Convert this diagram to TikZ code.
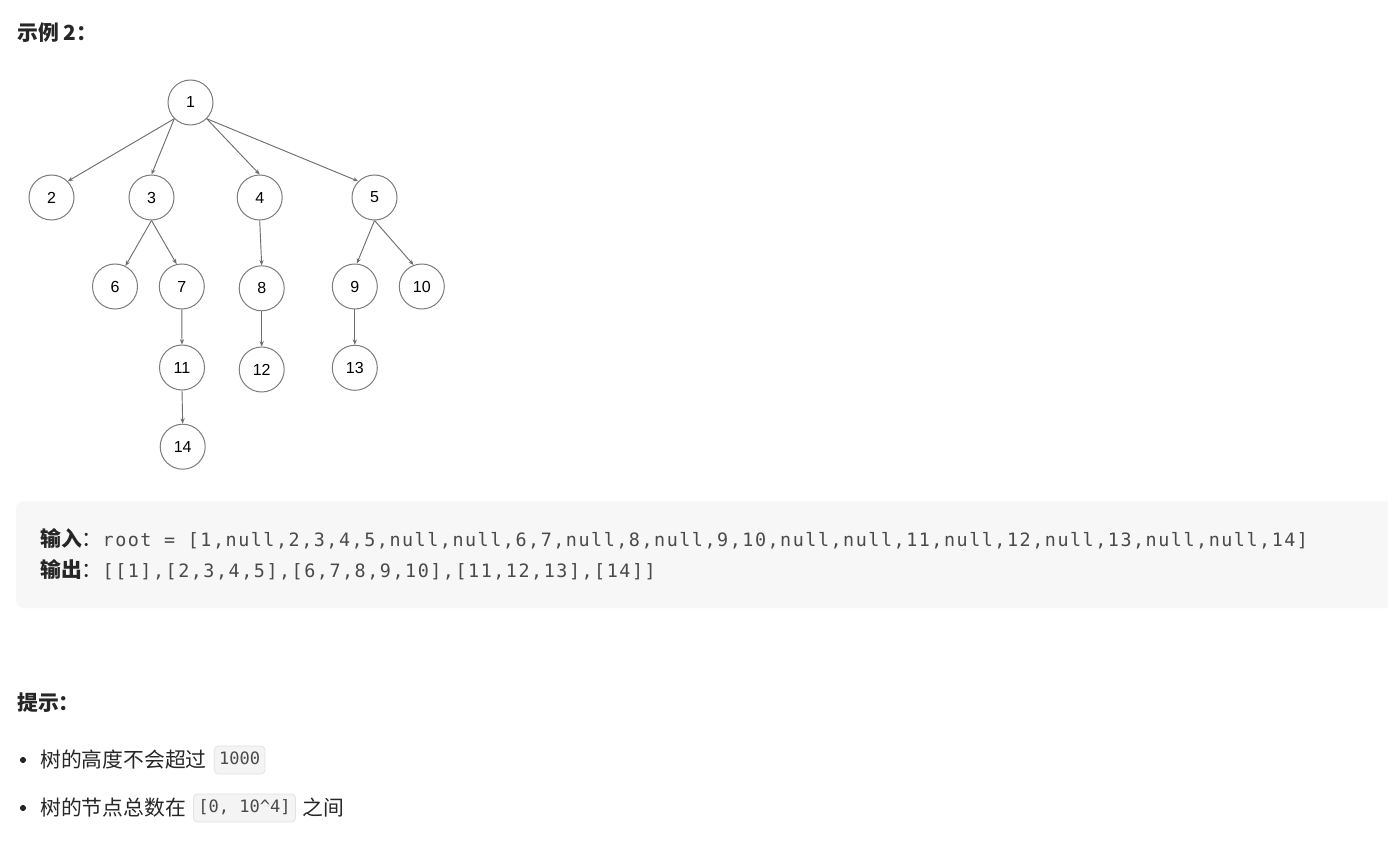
\documentclass[tikz,border=0pt]{standalone}
\usepackage{fontspec}
\setmainfont{Noto Sans CJK SC}
\newfontfamily\digitfont{Liberation Sans}
\newfontfamily\blockfont[LetterSpace=8.3]{DejaVu Sans Mono}
\newfontfamily\inlinefont{DejaVu Sans Mono}
\usepackage{tikz}
\usetikzlibrary{arrows.meta,positioning}
\definecolor{textcol}{HTML}{262626}
\definecolor{codecol}{HTML}{4A4A4A}
\definecolor{codebg}{HTML}{F7F7F7}
\definecolor{inlinebg}{HTML}{F4F4F4}
\definecolor{inlineline}{HTML}{E2E2E2}
\definecolor{edgecol}{HTML}{6E6E6E}
\definecolor{ringcol}{HTML}{7C7C7C}
\tikzset{
  treenode/.style={circle,draw=ringcol,line width=0.75pt,minimum size=33.75pt,
    inner sep=0pt,font=\digitfont\fontsize{12}{14}\selectfont,text=black},
  treeedge/.style={edgecol,line width=0.7pt,-{Stealth[length=4pt,width=3.2pt]}},
  plaintext/.style={anchor=west,inner sep=0pt,text=textcol,font=\fontsize{15.6}{18}\selectfont},
  boldtext/.style={plaintext,font=\bfseries\fontsize{15.6}{18}\selectfont},
  inlinecode/.style={draw=inlineline,fill=inlinebg,line width=0.6pt,rounded corners=3pt,
    inner xsep=3.6pt,inner ysep=0pt,minimum height=21pt,text height=9.5pt,text depth=2.5pt,
    text=codecol,font=\inlinefont\fontsize{12.8}{15}\selectfont}
}

\begin{document}
\begin{tikzpicture}[x=0.75pt,y=-0.75pt]
  \clip (0,0) rectangle (1388,848);
  \fill[white] (0,0) rectangle (1388,848);

  \node[boldtext] (title) at (17,33) {示例 2：};

  \node[treenode] (n1) at (190.5,102.5) {1};
  \node[treenode] (n2) at (51.5,197.5) {2};
  \node[treenode] (n3) at (151.5,197.5) {3};
  \node[treenode] (n4) at (259.7,197.5) {4};
  \node[treenode] (n5) at (374.5,197.5) {5};
  \node[treenode] (n6) at (115,286.5) {6};
  \node[treenode] (n7) at (181.8,286.5) {7};
  \node[treenode] (n8) at (261.7,288.3) {8};
  \node[treenode] (n9) at (354.8,286.5) {9};
  \node[treenode] (n10) at (421.8,286.5) {10};
  \node[treenode] (n11) at (182,367.5) {11};
  \node[treenode] (n12) at (261.7,369.5) {12};
  \node[treenode] (n13) at (354.8,367.8) {13};
  \node[treenode] (n14) at (182.7,446.7) {14};

  \draw[treeedge] (n1.south west) -- (n2.north east);
  \draw[treeedge] (n1.south west) -- (n3.north);
  \draw[treeedge] (n1.south east) -- (n4.north);
  \draw[treeedge] (n1.south east) -- (n5.north west);
  \draw[treeedge] (n3.south) -- (n6.63);
  \draw[treeedge] (n3.south) -- (n7.103);
  \draw[treeedge] (n4.south) -- (n8.north);
  \draw[treeedge] (n5.south) -- (n9.85);
  \draw[treeedge] (n5.south) -- (n10.111);
  \draw[treeedge] (n7.south) -- (n11.north);
  \draw[treeedge] (n8.south) -- (n12.north);
  \draw[treeedge] (n9.south) -- (n13.north);
  \draw[treeedge] (n11.south) -- (n14.north);

  \fill[codebg,rounded corners=6pt]
    (16,501) rectangle (1400,608);
  \node[plaintext] (input) at (40,539)
    {{\bfseries 输入}：{\color{codecol}\blockfont\fontsize{13.8}{16}\selectfont root = [1,null,2,3,4,5,null,null,6,7,null,8,null,9,10,null,null,11,null,12,null,13,null,null,14]}};
  \node[plaintext] (output) at (40,570)
    {{\bfseries 输出}：{\color{codecol}\blockfont\fontsize{13.8}{16}\selectfont [[1],[2,3,4,5],[6,7,8,9,10],[11,12,13],[14]]}};

  \node[boldtext] (hint) at (17,703) {提示：};

  \fill[textcol] (23,760) circle[radius=2.3pt];
  \node[plaintext] (height) at (40,760) {树的高度不会超过};
  \node[inlinecode,right=5.2pt of height] (heightval) {1000};

  \fill[textcol] (23,808) circle[radius=2.3pt];
  \node[plaintext] (count) at (40,808) {树的节点总数在};
  \node[inlinecode,right=5.2pt of count] (countval) {[0, 10\string^4]};
  \node[plaintext,right=5pt of countval] (between) {之间};
\end{tikzpicture}
\end{document}
